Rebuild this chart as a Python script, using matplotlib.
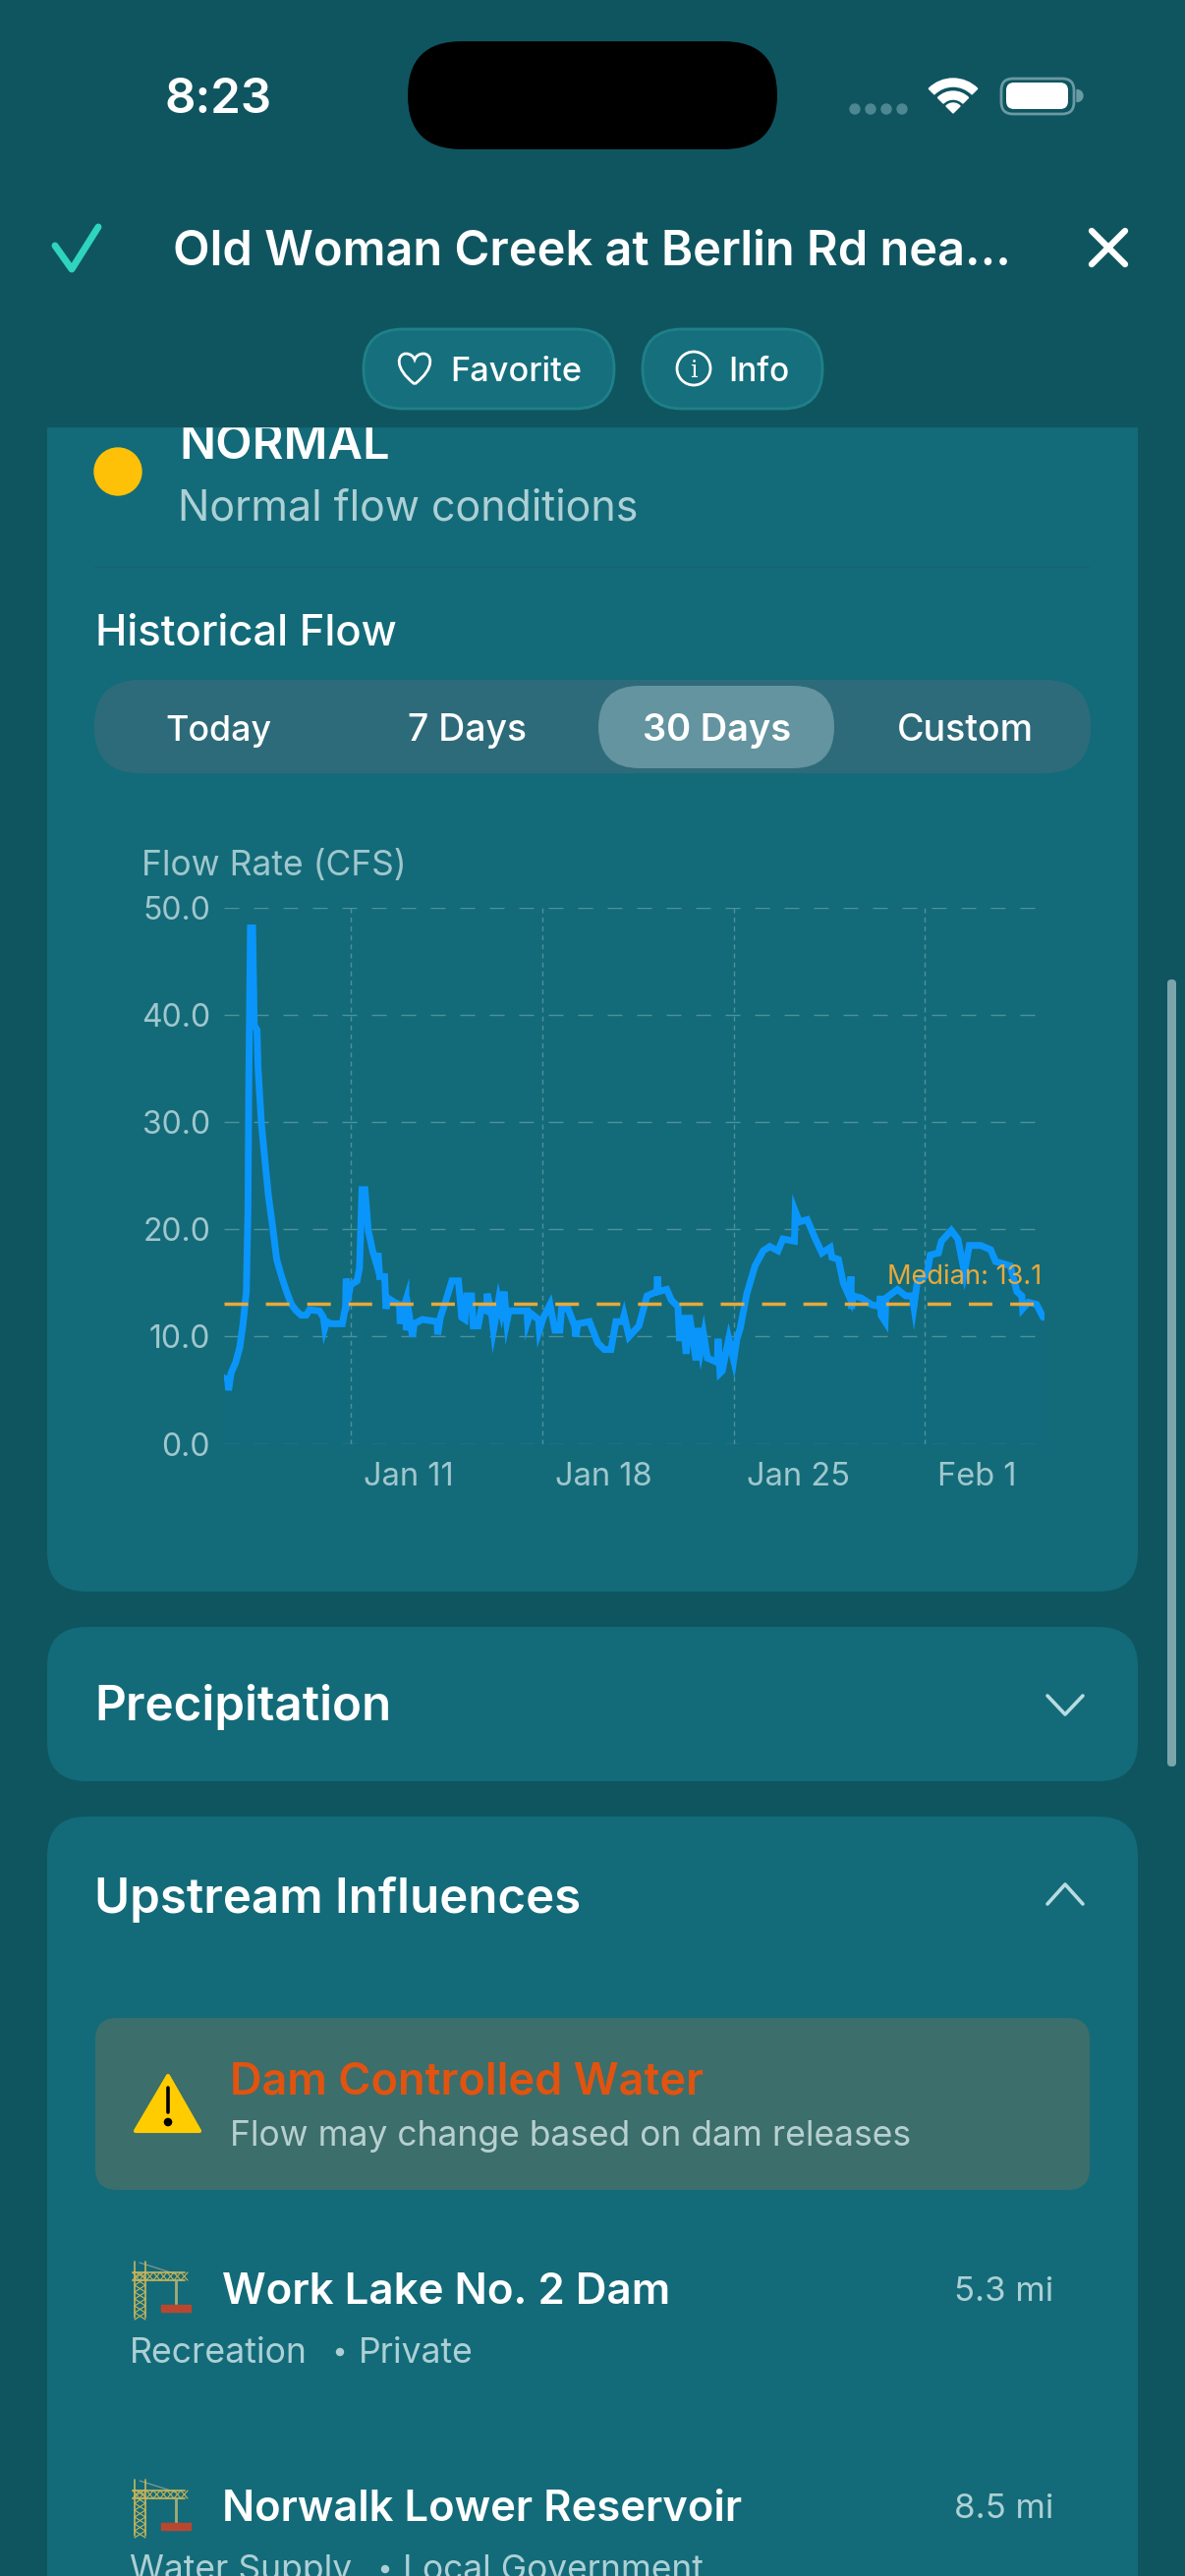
import matplotlib
matplotlib.use("Agg")
import matplotlib.pyplot as plt
from matplotlib.patches import Circle, FancyBboxPatch, PathPatch, Polygon, Rectangle, Wedge
from matplotlib.path import Path
from matplotlib.transforms import ScaledTranslation

plt.rcParams['font.family'] = ['Inter', 'DejaVu Sans']
plt.rcParams['lines.scale_dashes'] = False

# Flow readings, x is day of January (Feb 1 = 32)
DAYS = [6.31, 6.49, 6.52, 6.61, 6.78, 6.93, 7.05, 7.17, 7.23, 7.26, 7.32, 7.40, 7.46, 7.56, 7.60, 7.72, 7.84, 7.98,
        8.13, 8.28, 8.46, 8.64, 8.82, 9.00, 9.18, 9.36, 9.48, 9.84, 9.99, 10.04, 10.11, 10.26, 10.68, 10.80, 10.82,
        10.92, 10.98, 11.22, 11.31, 11.40, 11.51, 11.63, 11.79, 11.93, 11.99, 12.05, 12.23, 12.28, 12.35, 12.59,
        12.77, 12.80, 12.89, 13.01, 13.02, 13.13, 13.25, 13.31, 13.61, 14.15, 14.17, 14.27, 14.45, 14.69, 14.93,
        15.05, 15.17, 15.23, 15.41, 15.47, 15.65, 15.77, 15.95, 15.98, 16.13, 16.21, 16.31, 16.40, 16.49, 16.60,
        16.70, 16.78, 17.44, 17.46, 17.56, 17.86, 17.89, 18.04, 18.28, 18.46, 18.64, 18.70, 18.94, 19.18, 19.22,
        19.30, 19.72, 20.03, 20.27, 20.51, 20.69, 20.93, 20.99, 21.17, 21.53, 21.83, 22.19, 22.21, 22.25, 22.55,
        22.72, 22.96, 23.02, 23.14, 23.26, 23.38, 23.62, 23.68, 23.80, 23.90, 24.04, 24.40, 24.43, 24.50, 24.58,
        24.82, 25.00, 25.12, 25.24, 25.48, 25.78, 26.08, 26.32, 26.62, 26.80, 27.22, 27.25, 27.40, 27.69, 27.99,
        28.23, 28.53, 28.59, 28.83, 29.01, 29.25, 29.29, 29.31, 29.37, 29.67, 30.03, 30.33, 30.37, 30.39, 30.54,
        30.57, 30.99, 31.29, 31.53, 31.59, 31.71, 32.07, 32.19, 32.49, 32.60, 32.96, 33.20, 33.44, 33.62, 34.04,
        34.40, 34.58, 35.12, 35.36, 35.54, 35.57, 35.78, 36.08, 36.32]
FLOW = [6.2, 6.0, 5.0, 6.6, 7.6, 9.0, 11.2, 14.2, 21.9, 33.8, 48.1, 48.1, 39.0, 38.6, 35.0, 29.9, 26.7, 23.1,
        20.3, 17.2, 15.6, 14.2, 13.0, 12.4, 12.0, 12.0, 12.5, 12.4, 11.8, 10.8, 11.4, 11.2, 11.2, 12.8, 15.4,
        14.0, 14.8, 15.2, 16.4, 23.7, 23.7, 19.9, 18.0, 16.8, 17.8, 15.6, 15.6, 12.6, 13.6, 13.2,
        13.0, 11.2, 12.4, 13.4, 10.6, 12.0, 10.0, 11.2, 11.6, 11.4, 10.2, 11.8, 13.2, 15.2, 15.2,
        11.8, 11.6, 13.8, 13.8, 11.0, 11.0, 12.6, 12.4, 14.0, 12.4, 10.6, 12.0, 13.4, 12.4, 14.2,
        11.4, 12.4, 12.4, 11.4, 12.2, 11.6, 10.6, 11.8, 13.0, 10.6, 10.6, 12.6, 12.6, 11.0, 10.0,
        11.2, 11.4, 9.4, 8.8, 8.8, 11.4, 11.4, 12.0, 10.0, 11.0, 13.8, 14.2, 15.6, 14.2, 14.4,
        13.4, 12.8, 9.6, 12.0, 8.4, 12.0, 7.8, 10.8, 8.8, 10.2, 8.0, 7.6, 9.8, 6.6, 6.8,
        9.8, 7.8, 9.8, 10.8, 14.0, 16.6, 18.0, 18.4, 18.0, 19.1, 18.9, 21.7, 20.7, 20.9, 19.1,
        17.8, 18.3, 17.4, 17.2, 15.0, 13.6, 15.6, 12.6, 13.8, 13.6, 13.0, 12.8, 13.8, 12.0, 11.4,
        13.6, 14.4, 13.8, 13.8, 12.8, 15.0, 15.8, 17.6, 17.8, 18.9, 19.9, 19.1, 16.0, 18.5, 18.5,
        18.1, 17.0, 16.6, 14.2, 13.8, 12.6, 13.2, 13.0, 11.8]
MEDIAN = 13.1
Y_TICKS = [0, 10, 20, 30, 40, 50]
X_TICKS = [11, 18, 25, 32]
X_LABELS = ["Jan 11", "Jan 18", "Jan 25", "Feb 1"]

# Colours
BG = "#0f5560"
CARD = "#136b79"
WHITE = "#ffffff"
MUTED = "#add0d5"
AXIS_TEXT = "#a0c7cd"
GRID = "#4f919c"
BLUE = "#0a95fb"
ORANGE = "#e9a93a"

fig = plt.figure(figsize=(12.06, 26.22), dpi=100, facecolor=BG)

# Whole picture as a pixel canvas for the app screen around the chart
ui = fig.add_axes([0, 0, 1, 1])
ui.set_xlim(0, 1206)
ui.set_ylim(2622, 0)
ui.axis("off")
renderer = fig.canvas.get_renderer()


def box(x0, y0, x1, y1, r, color, edge="none", lw=0, z=1):
    patch = FancyBboxPatch((x0, y0), x1 - x0, y1 - y0, boxstyle=f"round,pad=0,rounding_size={r}",
                           facecolor=color, edgecolor=edge, linewidth=lw, zorder=z)
    ui.add_patch(patch)


def label(x0, x1, base, s, color=WHITE, weight="medium", z=5):
    # size is chosen so the text spans x0..x1
    t = ui.text(x0, base, s, color=color, fontweight=weight, fontsize=20, va="baseline", ha="left", zorder=z)
    w = t.get_window_extent(renderer).width
    t.set_fontsize(20 * (x1 - x0) / w)
    return t


def stroke(xs, ys, color=WHITE, lw=3.0, z=5):
    ui.plot(xs, ys, color=color, lw=lw, solid_capstyle="round", solid_joinstyle="round", zorder=z)


def crane(top):
    yellow = "#c8b55c"
    stroke([142, 180], [top + 1, top + 13], "#8f9d94", 0.8)
    for dx in (136, 147):
        stroke([dx + 1, dx + 1], [top, top + 57], yellow, 1.2)
    for dy in range(10, 55, 7):
        stroke([137, 148], [top + dy, top + dy + 7], yellow, 0.8)
        stroke([148, 137], [top + dy, top + dy + 7], yellow, 0.8)
    stroke([135, 188], [top + 11, top + 11], yellow, 1.2)
    stroke([135, 188], [top + 19, top + 19], yellow, 1.2)
    for dx in range(135, 185, 7):
        stroke([dx, dx + 7], [top + 11, top + 19], yellow, 0.8)
        stroke([dx + 7, dx], [top + 11, top + 19], yellow, 0.8)
    stroke([179, 179], [top + 19, top + 43], "#a3ab7a", 2.0)
    ui.add_patch(Rectangle((164, top + 44), 30, 7, color="#b9472f", zorder=5))


# Cards
box(48, 360, 1158, 1620, 40, CARD)
box(48, 1656, 1158, 1813, 40, CARD)
box(48, 1849, 1158, 2800, 40, CARD)

# Top of first card is scrolled under the header
label(182, 396, 467, "NORMAL", weight="semibold", z=2)
ui.add_patch(Rectangle((0, 0), 1206, 434, color=BG, zorder=3))
ui.add_patch(Circle((120, 480), 24, color="#ffc107", zorder=3))
label(181, 650, 530, "Normal flow conditions", MUTED, "normal")
ui.plot([96, 1108], [577, 577], color="#186272", lw=1, zorder=2)

# Status bar
label(167, 276, 115, "8:23", weight="semibold")
box(415, 42, 791, 152, 55, "#000000", z=5)
for x in (870, 886, 902, 918):
    ui.add_patch(Circle((x, 111), 5, color="#4d8791", zorder=5))
ui.add_patch(Wedge((970, 115), 35, 225, 315, width=8, color=WHITE, zorder=5))
ui.add_patch(Wedge((970, 115), 22, 225, 315, width=8, color=WHITE, zorder=5))
ui.add_patch(Wedge((970, 115), 10, 225, 315, color=WHITE, zorder=5))
box(1019, 80, 1093, 116, 12, "none", "#6a9aa3", 2.0, z=5)
box(1024, 84, 1087, 111, 8, WHITE, z=5)
ui.add_patch(Wedge((1096, 97.5), 6, -90, 90, color="#6a9aa3", zorder=5))

# Header
stroke([56, 73, 100], [250, 274, 231], "#2fd4bf", 5.0)
label(176, 1030, 269, "Old Woman Creek at Berlin Rd nea...", weight="semibold")
stroke([1111, 1145], [235, 269], lw=4.6)
stroke([1145, 1111], [235, 269], lw=4.6)

box(370, 335, 625, 416, 40, "#166f7d", "#1f8088", 2.0, z=4)
box(654, 335, 837, 416, 40, "#166f7d", "#1f8088", 2.0, z=4)
heart = Path([(422, 391), (400, 374), (405, 360), (413, 360), (418, 360), (421, 363), (422, 366),
              (423, 363), (426, 360), (431, 360), (439, 360), (444, 374), (422, 391)],
             [Path.MOVETO] + [Path.CURVE4] * 12)
ui.add_patch(PathPatch(heart, facecolor="none", edgecolor=WHITE, lw=2, zorder=5))
label(458, 592, 388, "Favorite")
ui.add_patch(Circle((706, 375), 17, facecolor="none", edgecolor=WHITE, lw=2, zorder=5))
ui.text(706, 384, "i", color=WHITE, fontsize=17, family="DejaVu Serif", ha="center", va="baseline", zorder=5)
label(741, 803, 388, "Info")

# Scroll indicator
box(1188, 997, 1197, 1798, 4, "#7ba5ab", z=2)

# Range selector
label(97, 404, 657, "Historical Flow")
box(96, 692, 1110, 787, 47, "#2e6b7a")
box(609, 698, 849, 782, 42, "#63949f", z=2)
label(168, 276, 754, "Today")
label(415, 536, 754, "7 Days")
label(654, 805, 754, "30 Days", weight="semibold")
label(913, 1052, 754, "Custom")

# Chart
label(144, 414, 891, "Flow Rate (CFS)", AXIS_TEXT, "normal")
ax = fig.add_axes([228 / 1206, 1 - 1469.7 / 2622, 835 / 1206, 546 / 2622])
ax.patch.set_alpha(0)
ax.set_xlim(6.354, 36.37)
ax.set_ylim(0, 50)
for side in ax.spines.values():
    side.set_visible(False)
ax.set_yticks(Y_TICKS)
ax.set_yticklabels([f"{v:.1f}" for v in Y_TICKS])
ax.set_xticks(X_TICKS)
ax.set_xticklabels(X_LABELS, ha="left")
ax.tick_params(axis="y", length=0, pad=10, labelsize=23, labelcolor=AXIS_TEXT)
ax.tick_params(axis="x", length=0, pad=13, labelsize=23.5, labelcolor=AXIS_TEXT)
offset = ScaledTranslation(13 / 100, 0, fig.dpi_scale_trans)
for tick_label in ax.get_xticklabels():
    tick_label.set_transform(tick_label.get_transform() + offset)
ax.grid(axis="y", color=GRID, lw=1.0, linestyle=(0, (10.8, 10.8)))
ax.grid(axis="x", color=GRID, lw=1.0, linestyle=(0, (3.6, 3.0)))
ax.set_axisbelow(True)
ax.fill_between(DAYS, FLOW, 0, color=BLUE, alpha=0.025, lw=0, zorder=1)
ax.plot(DAYS, FLOW, color=BLUE, lw=5.0, solid_joinstyle="miter", solid_capstyle="round", zorder=2)
ax.plot(ax.get_xlim(), [MEDIAN, MEDIAN], color=ORANGE, lw=2.5, linestyle=(0, (17.3, 13)), zorder=3)
ax.text(36.26, 14.9, f"Median: {MEDIAN}", color=ORANGE, fontsize=19.6, ha="right", va="baseline", zorder=4)

# Precipitation card
label(96, 399, 1751, "Precipitation", weight="semibold")
stroke([1066, 1084, 1102], [1726, 1745, 1726], "#b8dce0", 2.6)

# Upstream card
label(96, 591, 1947, "Upstream Influences", weight="semibold")
stroke([1066, 1084, 1102], [1938, 1918, 1938], "#b8dce0", 2.6)

box(97, 2054, 1109, 2229, 22, "#3c6e6b", z=2)
ui.add_patch(Polygon([(171, 2113), (203, 2169), (138, 2169)], closed=True, facecolor="#ffcc00",
                     edgecolor="#ffcc00", lw=3, joinstyle="round", zorder=5))
stroke([171, 171], [2125, 2150], "#000000", 2.6, z=6)
ui.add_patch(Circle((171, 2160), 3.6, color="#000000", zorder=6))
label(234, 717, 2132, "Dam Controlled Water", "#e2530f", "semibold")
label(234, 927, 2184, "Flow may change based on dam releases", "#b7d0cf", "normal")

crane(2302)
label(226, 682, 2345, "Work Lake No. 2 Dam", weight="semibold")
label(971, 1072, 2342, "5.3 mi", MUTED, "normal")
label(132, 313, 2405, "Recreation", MUTED, "normal")
ui.add_patch(Circle((346, 2394), 3.5, color=MUTED, zorder=5))
label(365, 482, 2405, "Private", MUTED, "normal")

crane(2524)
label(226, 756, 2566, "Norwalk Lower Reservoir", weight="semibold")
label(971, 1072, 2563, "8.5 mi", MUTED, "normal")
label(132, 358, 2626, "Water Supply", MUTED, "normal")
ui.add_patch(Circle((392, 2615), 3.5, color=MUTED, zorder=5))
label(410, 716, 2626, "Local Government", MUTED, "normal")

fig.savefig("out.png", dpi=100, facecolor=BG)
